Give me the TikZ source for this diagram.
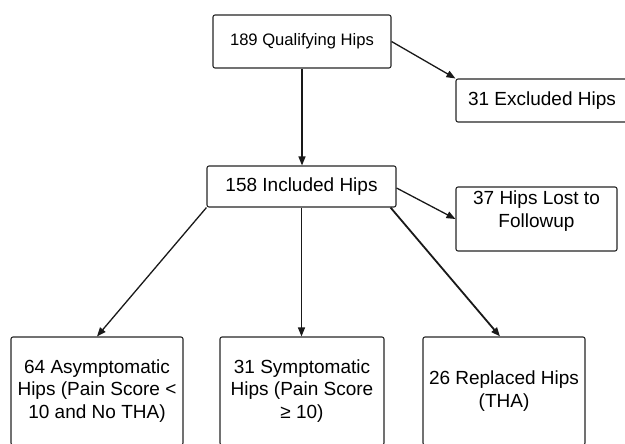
\documentclass[tikz,border=0pt]{standalone}
\usepackage{fontspec}
\setmainfont{Liberation Sans}
\usetikzlibrary{arrows.meta}
\begin{document}
\begin{tikzpicture}[x=1pt,y=-1pt,
  box/.style={draw=black!85,line width=1.1pt,rounded corners=2pt,fill=white,
    align=center,inner sep=0pt,font=\fontsize{19}{22.5}\selectfont},
  arr/.style={draw=black!90,line width=1.3pt,-{Triangle[length=9pt,width=7pt]}}]
\useasboundingbox (0,0) rectangle (625,444);
\node[box,minimum width=178pt,minimum height=53pt,font=\fontsize{16.6}{20}\selectfont] (q) at (302,41.5) {189 Qualifying Hips};
\node[box,minimum width=172pt,minimum height=43pt] (e) at (542,100.5) {31 Excluded Hips};
\node[box,minimum width=189pt,minimum height=41pt] (i) at (301.5,186.5) {158 Included Hips};
\node[box,minimum width=161pt,minimum height=64pt,
  label={[align=center,font=\fontsize{19}{23}\selectfont,yshift=8pt]center:37 Hips Lost to\\Followup}] (l) at (536.5,219) {};
\node[box,minimum width=172pt,minimum height=108pt] (b1) at (97,391) {64 Asymptomatic\\Hips (Pain Score <\\10 and No THA)};
\node[box,minimum width=164pt,minimum height=108pt] (b2) at (302,391) {31 Symptomatic\\Hips (Pain Score\\≥ 10)};
\node[box,minimum width=162pt,minimum height=108pt] (b3) at (504,391) {26 Replaced Hips\\(THA)};
\draw[arr] (q.east) -- (e.north west);
\draw[arr] (q.south) -- (q.south |- i.north);
\draw[arr] ([yshift=-1.5pt]i.east) -- (l.west);
\draw[arr] (i.south west) -- (b1.north);
\draw[arr] (i.south) -- (i.south |- b2.north);
\draw[arr,line width=1.8pt] ([xshift=-6pt]i.south east) -- ([xshift=-4pt]b3.north);
\end{tikzpicture}
\end{document}
